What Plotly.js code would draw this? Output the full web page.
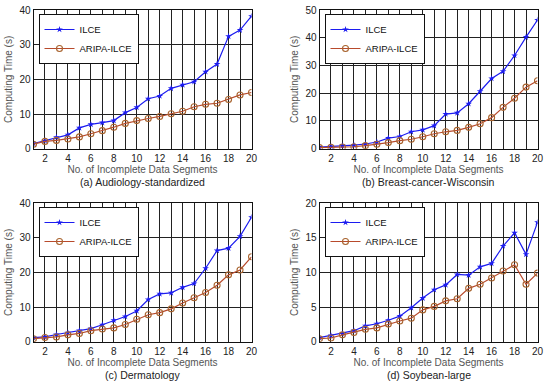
<!DOCTYPE html>
<html>
<head>
<meta charset="utf-8">
<script src="https://cdn.plot.ly/plotly-3.0.1.min.js"></script>
<style>html,body{margin:0;padding:0;background:#fff;}#chart{width:550px;height:386px;}</style>
</head>
<body>
<div id="chart"></div>
<script>
const segments = [1,2,3,4,5,6,7,8,9,10,11,12,13,14,15,16,17,18,19,20];

const audiologyILCE  = [1.5,2.3,3.3,4.0,6.0,7.0,7.5,8.1,10.4,11.9,14.4,15.2,17.4,18.4,19.3,22.2,24.4,32.4,34.2,38.2];
const audiologyARIPA = [1.3,2.1,2.4,2.8,3.4,4.3,5.2,6.2,7.3,8.1,8.7,9.3,10.1,10.8,12.1,12.8,13.1,14.2,15.5,16.2];

const breastILCE  = [0.6,0.8,1.1,1.3,1.7,2.4,3.8,4.4,6.1,6.8,8.3,12.5,12.9,16.2,20.7,25.3,27.9,33.6,40.2,46.4];
const breastARIPA = [0.4,0.5,0.6,0.7,1.1,1.6,2.2,2.9,3.4,4.3,5.4,6.1,6.6,7.7,9.0,11.2,14.9,18.2,22.2,24.5];

const dermaILCE  = [1.2,1.4,2.1,2.6,3.2,3.8,4.9,6.2,7.3,8.9,12.2,13.8,14.1,15.7,16.8,21.2,26.3,27.0,30.4,35.9];
const dermaARIPA = [0.9,1.25,1.4,2.0,2.4,3.2,3.7,4.0,5.0,6.5,7.8,8.4,9.5,11.2,12.7,14.2,16.3,19.3,20.7,24.5];

const soyILCE  = [0.6,0.9,1.2,1.6,2.3,2.6,3.1,3.7,4.9,6.3,7.5,8.2,9.7,9.6,10.8,11.3,13.8,15.7,12.6,17.2];
const soyARIPA = [0.45,0.55,1.0,1.35,1.8,2.0,2.55,3.0,3.4,4.6,5.1,5.9,6.2,7.7,8.3,9.2,10.2,11.1,8.3,9.9];

const seriesNames = ['ILCE','ARIPA-ILCE'];
const captions = ['(a) Audiology-standardized','(b) Breast-cancer-Wisconsin','(c) Dermatology','(d) Soybean-large'];
const yMax = [40,50,40,20];
const yStep = [10,10,10,5];
const xTitle = 'No. of Incomplete Data Segments';
const yTitle = 'Computing Time (s)';

const panels = [
  [audiologyILCE, audiologyARIPA],
  [breastILCE, breastARIPA],
  [dermaILCE, dermaARIPA],
  [soyILCE, soyARIPA]
];

const W = 550, H = 386;
const xDom = [[33.5/W, 251.5/W],[319.5/W, 537.5/W]];
const yDom = [[(H-148.7)/H, (H-10)/H],[(H-341.8)/H, (H-203)/H]];

const blue = '#1c1cf0';
const redLine = '#b84a2c';
const circ = '#a8632e';
const font = 'Arial, "Liberation Sans", sans-serif';

const data = [];
const layout = {
  width: W, height: H,
  margin: {l:0, r:0, t:0, b:0},
  paper_bgcolor: '#fff', plot_bgcolor: '#fff',
  showlegend: true,
  font: {family: font, size: 10, color: '#222'},
  annotations: []
};

panels.forEach((p, i) => {
  const n = i + 1;
  const xa = n === 1 ? 'x' : 'x' + n;
  const ya = n === 1 ? 'y' : 'y' + n;
  const lg = n === 1 ? 'legend' : 'legend' + n;
  const col = i % 2, row = Math.floor(i / 2);
  data.push({
    x: segments, y: p[0], xaxis: xa, yaxis: ya, legend: lg,
    name: seriesNames[0], mode: 'lines+markers',
    line: {color: blue, width: 1.2},
    marker: {symbol: 'star', size: 5, color: blue}
  });
  data.push({
    x: segments, y: p[1], xaxis: xa, yaxis: ya, legend: lg,
    name: seriesNames[1], mode: 'lines+markers',
    line: {color: redLine, width: 1.2},
    marker: {symbol: 'circle-open', size: 6, color: circ, line: {color: circ, width: 1.1}}
  });
  const xk = n === 1 ? 'xaxis' : 'xaxis' + n;
  const yk = n === 1 ? 'yaxis' : 'yaxis' + n;
  layout[xk] = {
    domain: xDom[col], anchor: ya, range: [1, 20],
    tick0: 0, dtick: 2, showgrid: true, gridcolor: '#222', gridwidth: 1,
    minor: {dtick: 1, showgrid: true, gridcolor: '#222', gridwidth: 1},
    showline: true, linecolor: '#111', linewidth: 1, mirror: true,
    zeroline: false, ticks: '', ticklen: 0,
    tickfont: {family: font, size: 10, color: '#222'},
    title: {text: xTitle, font: {family: font, size: 10, color: '#555'}, standoff: 0},
    automargin: false
  };
  layout[yk] = {
    domain: yDom[row], anchor: xa, range: [0, yMax[i]],
    dtick: yStep[i], showgrid: true, gridcolor: '#222', gridwidth: 1,
    showline: true, linecolor: '#111', linewidth: 1, mirror: true,
    zeroline: false, ticks: '', ticklen: 0,
    tickfont: {family: font, size: 10, color: '#222'},
    title: {text: yTitle, font: {family: font, size: 10, color: '#555'}, standoff: 4},
    automargin: false
  };
  layout[lg] = {
    x: (xDom[col][0]*W + 5)/W, y: yDom[row][1] - 4/H,
    xanchor: 'left', yanchor: 'top',
    bgcolor: '#fff', bordercolor: '#111', borderwidth: 1,
    font: {family: font, size: 9.5, color: '#111'},
    itemwidth: 30, tracegroupgap: 0
  };
  layout.annotations.push({
    text: captions[i], xref: 'paper', yref: 'paper',
    x: (xDom[col][0] + xDom[col][1]) / 2, y: yDom[row][0] - 33/H,
    xanchor: 'center', yanchor: 'middle', showarrow: false,
    font: {family: font, size: 10.5, color: '#222'}
  });
});

Plotly.newPlot('chart', data, layout, {staticPlot: true});
</script>
</body>
</html>
